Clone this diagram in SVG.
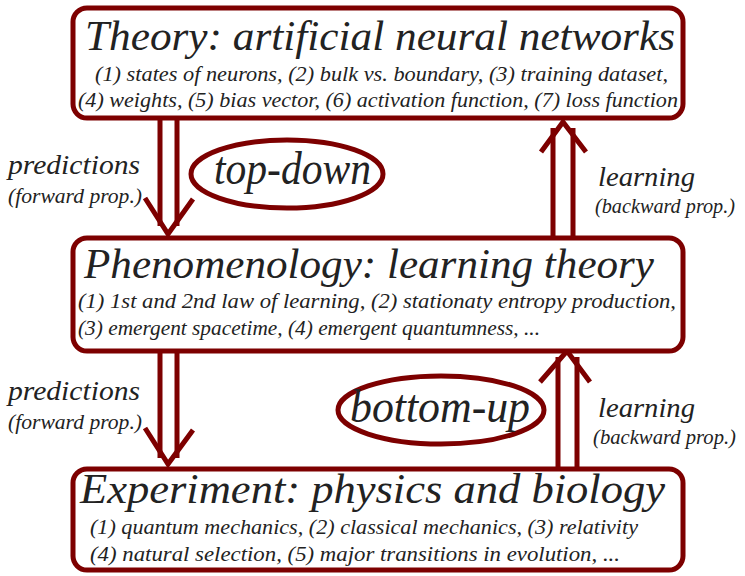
<svg xmlns="http://www.w3.org/2000/svg" width="745" height="576" viewBox="0 0 745 576">
<style>
.box{fill:#fff;stroke:#7d0000;stroke-width:5}
.ell{fill:none;stroke:#7d0000;stroke-width:5}
.ln{fill:none;stroke:#7d0000;stroke-width:5;stroke-linecap:butt;stroke-linejoin:miter}
text{font-family:"Liberation Serif","DejaVu Serif",serif;font-style:italic;fill:#222}
.t{font-size:42px}
.s{font-size:22px}
.lab{font-size:28px}
.lab2{font-size:21px}
.big{font-size:46px}
</style>
<rect width="745" height="576" fill="#fff"/>
<g id="connectors">
  <g id="pred-top">
    <path class="ln" d="M160,120 V226 M177,120 V226"/>
    <polyline class="ln" points="145,198 168,234 193,199"/>
  </g>
  <g id="learn-top">
    <path class="ln" d="M553,236 V128 M573,236 V128"/>
    <polyline class="ln" points="541,152 563,122 586,152"/>
  </g>
  <g id="pred-bottom">
    <path class="ln" d="M160,352 V458 M177,352 V458"/>
    <polyline class="ln" points="145,428 168,464 193,430"/>
  </g>
  <g id="learn-bottom">
    <path class="ln" d="M558,468 V357 M577,468 V357"/>
    <polyline class="ln" points="540,382 567,351 590,382"/>
  </g>
  <text class="lab" x="8" y="174" textLength="132" lengthAdjust="spacingAndGlyphs">predictions</text>
  <text class="lab2" x="8" y="203" textLength="134" lengthAdjust="spacingAndGlyphs">(forward prop.)</text>
  <text class="lab" x="598" y="186" textLength="97" lengthAdjust="spacingAndGlyphs">learning</text>
  <text class="lab2" x="595" y="213" textLength="140" lengthAdjust="spacingAndGlyphs">(backward prop.)</text>
  <text class="lab" x="8" y="400" textLength="132" lengthAdjust="spacingAndGlyphs">predictions</text>
  <text class="lab2" x="8" y="429" textLength="134" lengthAdjust="spacingAndGlyphs">(forward prop.)</text>
  <text class="lab" x="598" y="417" textLength="97" lengthAdjust="spacingAndGlyphs">learning</text>
  <text class="lab2" x="593" y="444" textLength="143" lengthAdjust="spacingAndGlyphs">(backward prop.)</text>
</g>
<g id="theory">
  <rect class="box" x="73" y="8" width="610" height="110" rx="14"/>
  <text class="t" x="85" y="50" textLength="590" lengthAdjust="spacingAndGlyphs">Theory: artificial neural networks</text>
  <text class="s" x="95" y="81" textLength="573" lengthAdjust="spacingAndGlyphs">(1) states of neurons, (2) bulk vs. boundary, (3) training dataset,</text>
  <text class="s" x="78" y="107" textLength="600" lengthAdjust="spacingAndGlyphs">(4) weights, (5) bias vector, (6) activation function, (7) loss function</text>
</g>
<g id="phenomenology">
  <rect class="box" x="73" y="238" width="610" height="113" rx="14"/>
  <text class="t" x="84" y="278" textLength="570" lengthAdjust="spacingAndGlyphs">Phenomenology: learning theory</text>
  <text class="s" x="78" y="308" textLength="598" lengthAdjust="spacingAndGlyphs">(1) 1st and 2nd law of learning, (2) stationaty entropy production,</text>
  <text class="s" x="78" y="335" textLength="462" lengthAdjust="spacingAndGlyphs">(3) emergent spacetime, (4) emergent quantumness, ...</text>
</g>
<g id="experiment">
  <rect class="box" x="73" y="469" width="610" height="101" rx="14"/>
  <text class="t" x="80" y="503" textLength="585" lengthAdjust="spacingAndGlyphs">Experiment: physics and biology</text>
  <text class="s" x="90" y="534" textLength="548" lengthAdjust="spacingAndGlyphs">(1) quantum mechanics, (2) classical mechanics, (3) relativity</text>
  <text class="s" x="90" y="561" textLength="530" lengthAdjust="spacingAndGlyphs">(4) natural selection, (5) major transitions in evolution, ...</text>
</g>
<g id="top-down">
  <ellipse class="ell" cx="287" cy="174" rx="96" ry="34"/>
  <text class="big" x="214" y="184" textLength="157" lengthAdjust="spacingAndGlyphs">top-down</text>
</g>
<g id="bottom-up">
  <ellipse class="ell" cx="441" cy="410" rx="103" ry="34"/>
  <text class="big" x="350" y="422" textLength="180" lengthAdjust="spacingAndGlyphs">bottom-up</text>
</g>
</svg>
